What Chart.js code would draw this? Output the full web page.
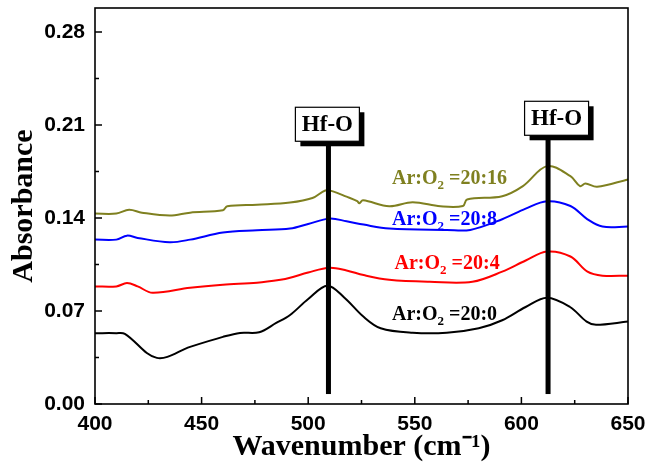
<!DOCTYPE html>
<html>
<head>
<meta charset="utf-8">
<script src="https://cdn.jsdelivr.net/npm/chart.js@4/dist/chart.umd.min.js"></script>
<style>
  html, body { margin: 0; padding: 0; background: #ffffff; }
  #wrap { width: 649px; height: 473px; }
</style>
</head>
<body>
<div id="wrap"><canvas id="c" width="649" height="473"></canvas></div>
<script>
// ---- data ----
const seriesNames = ['Ar:O\u2082 =20:16', 'Ar:O\u2082 =20:8', 'Ar:O\u2082 =20:4', 'Ar:O\u2082 =20:0'];
const seriesColors = ['#7f8020', '#0000ff', '#ff0000', '#000000'];

const wnOlive = [400, 410, 416, 422, 435, 444.6, 460, 462, 476, 491.5, 502, 508, 511.6, 518, 523, 524, 525.7, 538, 549, 562, 572.6, 574.5, 591, 600.7, 612, 623, 627.5, 630, 635.5, 650];
const absOlive = [0.1433, 0.1433, 0.1462, 0.144, 0.1418, 0.144, 0.1458, 0.1488, 0.150, 0.1516, 0.155, 0.1607, 0.160, 0.156, 0.1526, 0.151, 0.1533, 0.1488, 0.1518, 0.1488, 0.149, 0.1539, 0.1564, 0.164, 0.179, 0.1715, 0.164, 0.166, 0.1635, 0.169];

const wnBlue = [400, 410, 415, 420, 435, 444.6, 460, 476, 491.5, 500, 510, 518, 526, 538, 565, 576, 591, 602, 612, 623, 631, 638, 650];
const absBlue = [0.1237, 0.1237, 0.1267, 0.125, 0.1217, 0.1237, 0.129, 0.1307, 0.132, 0.1355, 0.1395, 0.1375, 0.135, 0.132, 0.131, 0.131, 0.139, 0.147, 0.1526, 0.149, 0.139, 0.1335, 0.1335];

const wnRed = [400, 410, 415, 420, 427, 444.6, 460, 476, 487, 491.5, 500, 510, 518, 526, 538, 557, 577, 591, 602, 612, 623, 631, 638, 650];
const absRed = [0.0885, 0.0885, 0.091, 0.0885, 0.0837, 0.0875, 0.0898, 0.0913, 0.0935, 0.095, 0.099, 0.1026, 0.1005, 0.097, 0.0935, 0.092, 0.092, 0.0996, 0.108, 0.1147, 0.111, 0.0996, 0.0966, 0.0966];

const wnBlack = [400, 410, 414, 429, 444.6, 460, 468, 477, 485, 491.5, 500, 509, 517, 526, 534, 549, 565, 580, 591, 602, 612, 622.8, 630.6, 635, 650];
const absBlack = [0.0533, 0.0533, 0.0528, 0.0347, 0.043, 0.0505, 0.0535, 0.054, 0.061, 0.067, 0.079, 0.089, 0.080, 0.0656, 0.057, 0.0536, 0.0536, 0.057, 0.063, 0.073, 0.080, 0.073, 0.062, 0.0596, 0.062];

const xTicks = [400, 450, 500, 550, 600, 650];
const yTicks = [0.00, 0.07, 0.14, 0.21, 0.28];

// annotations (data units)
const peakLabel = 'Hf-O';
const peakWn = [509.5, 612.5];
const peakBoxCenterWn = [509.0, 616.5];
const peakBoxTop = [0.2233, 0.2278];
const peakLineBottom = 0.0075;

const labelWn = [539.3, 539.3, 540.5, 539.3];
const labelAbs = [0.1652, 0.1350, 0.1019, 0.0634];

// ---- build ----
function pts(xs, ys) { return xs.map((x, i) => ({ x: x, y: ys[i] })); }
const allX = [wnOlive, wnBlue, wnRed, wnBlack];
const allY = [absOlive, absBlue, absRed, absBlack];

const datasets = seriesNames.map((n, i) => ({
  label: n,
  data: pts(allX[i], allY[i]),
  borderColor: seriesColors[i],
  backgroundColor: seriesColors[i],
  borderWidth: 2,
  pointRadius: 0,
  fill: false,
  tension: 0.35
}));

const TICK_FONT = { family: '"Liberation Sans", Arial, sans-serif', size: 21, weight: 'bold' };
const TITLE_FONT = { family: '"Liberation Serif", "Times New Roman", serif', size: 30, weight: 'bold' };

function zeroPad(s) { s.paddingTop = 0; s.paddingBottom = 0; s.paddingLeft = 0; s.paddingRight = 0; }

const decor = {
  id: 'decor',
  afterDatasetsDraw(chart) {
    const ctx = chart.ctx;
    const xs = chart.scales.x, ys = chart.scales.y;
    const a = chart.chartArea;
    ctx.save();
    // frame
    ctx.strokeStyle = '#000';
    ctx.lineWidth = 1.6;
    ctx.strokeRect(a.left, a.top, a.right - a.left, a.bottom - a.top);
    // inward ticks
    ctx.lineWidth = 1.5;
    ctx.beginPath();
    for (let i = 0; i < yTicks.length; i++) {
      const y = ys.getPixelForValue(yTicks[i]);
      ctx.moveTo(a.left, y); ctx.lineTo(a.left + 7, y);
      if (i < yTicks.length - 1) {
        const ym = ys.getPixelForValue((yTicks[i] + yTicks[i + 1]) / 2);
        ctx.moveTo(a.left, ym); ctx.lineTo(a.left + 4, ym);
      }
    }
    for (let i = 0; i < xTicks.length; i++) {
      const x = xs.getPixelForValue(xTicks[i]);
      ctx.moveTo(x, a.bottom); ctx.lineTo(x, a.bottom - 7);
      if (i < xTicks.length - 1) {
        const xm = xs.getPixelForValue((xTicks[i] + xTicks[i + 1]) / 2);
        ctx.moveTo(xm, a.bottom); ctx.lineTo(xm, a.bottom - 4);
      }
    }
    ctx.stroke();

    // Hf-O markers
    const bw = 64, bh = 34, sh = 5;
    for (let i = 0; i < peakWn.length; i++) {
      const lx = xs.getPixelForValue(peakWn[i]);
      const bx = xs.getPixelForValue(peakBoxCenterWn[i]) - bw / 2;
      const by = ys.getPixelForValue(peakBoxTop[i]);
      const lb = ys.getPixelForValue(peakLineBottom);
      ctx.fillStyle = '#000';
      ctx.fillRect(lx - 2.5, by + bh, 5, lb - (by + bh));
      ctx.fillRect(bx + sh, by + sh, bw, bh);
      ctx.fillStyle = '#fff';
      ctx.fillRect(bx, by, bw, bh);
      ctx.strokeStyle = '#000';
      ctx.lineWidth = 1.2;
      ctx.strokeRect(bx, by, bw, bh);
      ctx.fillStyle = '#000';
      ctx.font = 'bold 23px "Liberation Serif", "Times New Roman", serif';
      ctx.textAlign = 'center';
      ctx.textBaseline = 'middle';
      ctx.fillText(peakLabel, bx + bw / 2, by + bh / 2 + 1);
    }

    // series labels with subscript
    ctx.textAlign = 'left';
    ctx.textBaseline = 'alphabetic';
    const big = 'bold 20px "Liberation Serif", "Times New Roman", serif';
    const small = 'bold 13px "Liberation Serif", "Times New Roman", serif';
    for (let i = 0; i < seriesNames.length; i++) {
      let x = xs.getPixelForValue(labelWn[i]);
      const y = ys.getPixelForValue(labelAbs[i]);
      ctx.fillStyle = seriesColors[i];
      const parts = seriesNames[i].split('\u2082');
      ctx.font = big;
      ctx.fillText(parts[0], x, y);
      x += ctx.measureText(parts[0]).width;
      ctx.font = small;
      ctx.fillText('2', x, y + 5);
      x += ctx.measureText('2').width;
      ctx.font = big;
      ctx.fillText(parts[1], x, y);
    }
    ctx.restore();
  }
};

new Chart(document.getElementById('c'), {
  type: 'line',
  data: { datasets: datasets },
  options: {
    responsive: false,
    animation: false,
    devicePixelRatio: 1,
    layout: { padding: { left: 0, right: 21, top: 8, bottom: 0 } },
    plugins: { legend: { display: false }, tooltip: { enabled: false } },
    scales: {
      x: {
        type: 'linear',
        min: 400, max: 650,
        afterBuildTicks: (s) => { s.ticks = xTicks.map(v => ({ value: v })); },
        afterFit: (s) => { s.height = 69; zeroPad(s); },
        grid: { display: false, drawTicks: false },
        border: { display: false },
        ticks: { color: '#000', font: TICK_FONT, padding: 8, maxRotation: 0, autoSkip: false,
                 callback: (v) => String(v) },
        title: { display: true, text: 'Wavenumber (cm\u207B\u00B9)', color: '#000', font: TITLE_FONT,
                 padding: { top: 0, bottom: 8 } }
      },
      y: {
        type: 'linear',
        min: 0, max: 0.298,
        afterBuildTicks: (s) => { s.ticks = yTicks.map(v => ({ value: v })); },
        afterFit: (s) => { s.width = 95; zeroPad(s); },
        grid: { display: false, drawTicks: false },
        border: { display: false },
        ticks: { color: '#000', font: TICK_FONT, padding: 10, autoSkip: false,
                 callback: (v) => Number(v).toFixed(2) },
        title: { display: true, text: 'Absorbance', color: '#000', font: TITLE_FONT,
                 padding: { top: 6, bottom: 0 } }
      }
    }
  },
  plugins: [decor]
});
</script>
</body>
</html>
